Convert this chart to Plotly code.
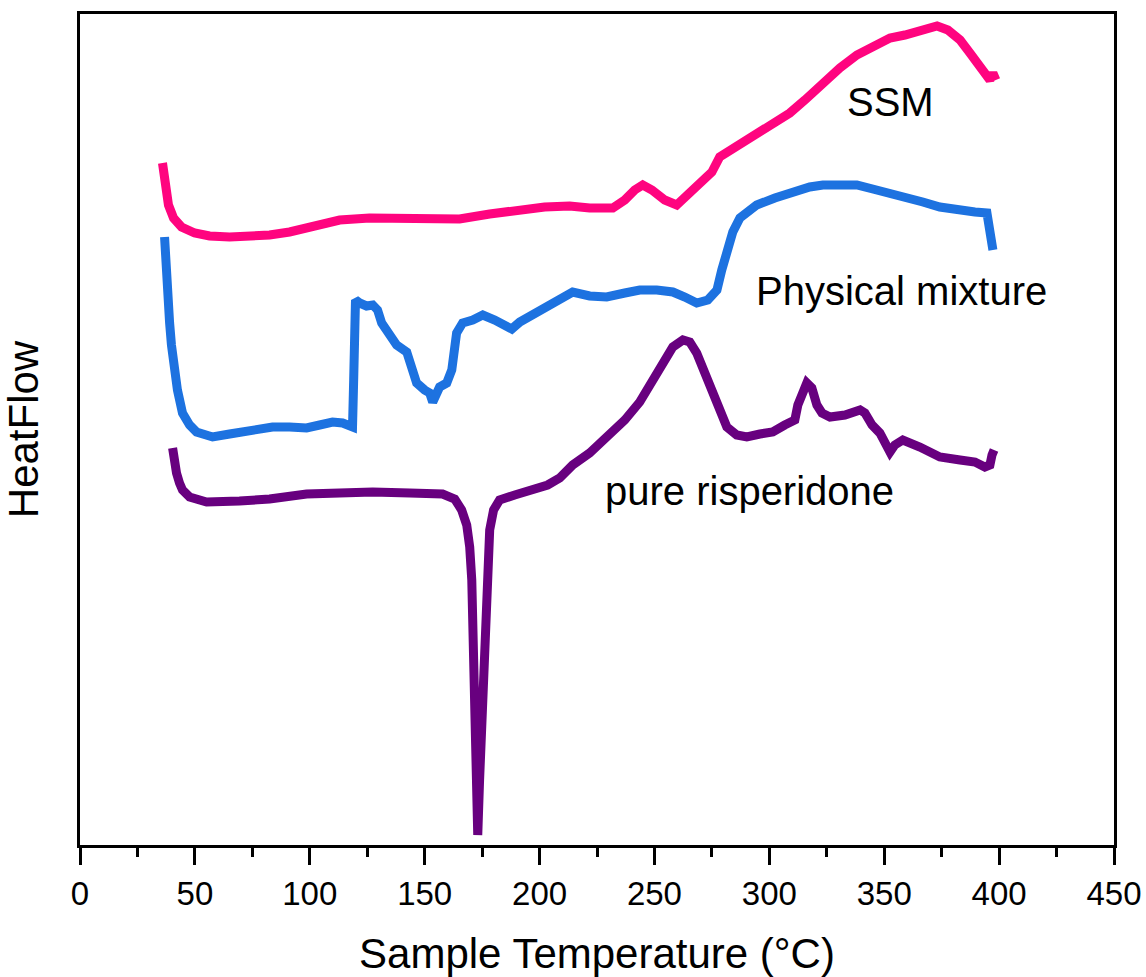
import plotly.graph_objects as go

# ---- data (Sample Temperature in °C, HeatFlow in arbitrary units) ----
ssm_t = [35.9, 36.4, 37.2, 38.5, 40.7, 44.2, 49.9, 56.4, 65.1, 73.8, 82.5, 91.2, 99.9, 113.0,
         126.0, 139.1, 152.2, 165.2, 178.3, 191.4, 202.2, 213.1, 221.8, 231.9, 237.1, 241.4,
         244.9, 248.9, 254.5, 259.7, 265.4, 271.1, 275.0, 278.4, 287.2, 294.5, 302.4, 308.9,
         315.5, 323.3, 330.7, 338.1, 345.9, 352.5, 359.0, 366.8, 373.0, 377.7, 383.0, 387.3,
         390.8, 393.8, 396.0, 397.3, 398.6]
ssm_hf = [682, 670, 655, 640, 627, 618, 612, 609, 608, 608, 610, 613, 617, 625,
          627, 626, 625, 626, 631, 635, 638, 639, 637, 637, 645, 655,
          660, 655, 645, 640, 652, 663, 673, 688, 700, 710, 721, 732,
          745, 762, 777, 790, 800, 807, 810, 814, 819, 815, 805, 792,
          780, 770, 765, 772, 765]

pm_t = [36.8, 37.2, 37.7, 38.5, 39.0, 39.8, 40.3, 41.1, 42.4, 44.6, 47.7, 50.7, 57.7, 65.1,
        69.4, 76.9, 83.8, 91.2, 98.6, 104.3, 109.9, 114.3, 118.6, 119.1, 119.5, 119.9, 121.7,
        124.7, 127.4, 129.5, 131.3, 134.8, 137.8, 142.2, 144.3, 146.5, 150.0, 152.2, 153.5,
        155.2, 156.5, 159.6, 161.8, 163.9, 166.5, 170.9, 175.3, 180.5, 184.8, 187.9, 191.4,
        200.1, 206.6, 214.4, 221.8, 229.2, 237.1, 243.6, 251.0, 258.0, 263.2, 268.4, 273.2,
        277.2, 279.3, 281.5, 284.1, 287.2, 294.5, 302.4, 308.9, 317.6, 323.3, 330.7, 338.1,
        345.0, 352.5, 359.0, 366.8, 374.2, 381.6, 389.5, 394.7, 396.0, 396.5, 397.3]
pm_hf = [608, 585, 555, 535, 522, 500, 488, 470, 455, 432, 420, 413, 408, 411,
         413, 417, 418, 418, 417, 420, 423, 422, 418, 465, 515, 545, 542,
         539, 540, 535, 522, 512, 500, 493, 480, 462, 455, 452, 443,
         455, 458, 462, 475, 512, 522, 525, 530, 525, 520, 516, 523,
         535, 543, 553, 549, 548, 552, 555, 555, 553, 548, 542, 545,
         555, 575, 595, 613, 627, 640, 647, 652, 658, 660, 661, 660,
         656, 652, 647, 643, 638, 635, 633, 632, 615, 605, 595]

pr_t = [40.3, 41.1, 42.0, 43.3, 44.6, 47.7, 55.1, 69.4, 82.5, 98.6, 113.0, 127.4, 143.5,
        157.8, 163.1, 166.1, 168.3, 169.6, 170.5, 170.9, 171.8, 172.6, 173.1, 173.9, 175.3,
        176.6, 177.4, 178.3, 180.0, 182.6, 189.2, 197.0, 203.5, 208.8, 214.4, 221.8, 229.2,
        237.1, 243.6, 248.8, 253.6, 258.0, 262.4, 265.4, 268.4, 271.9, 275.4, 278.4, 281.5,
        285.8, 290.2, 295.9, 301.5, 306.7, 311.1, 312.4, 314.6, 316.3, 318.5, 320.7, 322.9,
        326.4, 332.9, 339.5, 341.6, 344.7, 348.1, 351.2, 352.5, 354.6, 358.1, 365.5, 374.2,
        383.0, 389.5, 393.8, 396.0, 396.9, 397.8]
pr_hf = [397, 383, 372, 362, 355, 348, 343, 344, 346, 351, 353, 353, 352,
         351, 346, 335, 320, 298, 265, 232, 145, 55, 10, 65, 145,
         232, 285, 315, 335, 345, 350, 355, 360, 367, 380, 392, 408,
         425, 443, 462, 483, 498, 505, 503, 492, 473, 452, 432, 418,
         410, 408, 411, 413, 420, 425, 440, 455, 462, 457, 440, 432,
         428, 430, 435, 432, 420, 412, 400, 393, 400, 405, 398, 388,
         385, 383, 378, 380, 390, 395]

labels = ["SSM", "Physical mixture", "pure risperidone"]
label_t = [352.9, 357.7, 291.5]
label_hf = [743, 554, 354]

x_ticks = [0, 50, 100, 150, 200, 250, 300, 350, 400, 450]

colors = ["#FF047F", "#1D72E0", "#68007F"]
FONT = "Liberation Sans, Arial, sans-serif"

fig = go.Figure()
for t, hf, c, name in [(ssm_t, ssm_hf, colors[0], labels[0]),
                       (pm_t, pm_hf, colors[1], labels[1]),
                       (pr_t, pr_hf, colors[2], labels[2])]:
    fig.add_trace(go.Scatter(x=t, y=hf, mode="lines", name=name,
                             line=dict(color=c, width=9), showlegend=False))

for txt, tx, ty in zip(labels, label_t, label_hf):
    fig.add_annotation(x=tx, y=ty, text=txt, showarrow=False,
                       font=dict(family=FONT, size=40, color="black"),
                       xanchor="center", yanchor="middle")

fig.update_layout(
    width=1146, height=977,
    margin=dict(l=80, r=32, t=14, b=132),
    paper_bgcolor="white", plot_bgcolor="white",
    font=dict(family=FONT, color="black"),
)
fig.update_xaxes(
    range=[0, 450], tickvals=x_ticks, ticktext=[str(v) for v in x_ticks],
    automargin=False,
    showline=True, linecolor="black", linewidth=3, mirror=True,
    ticks="outside", ticklen=17, tickwidth=3, tickcolor="black",
    minor=dict(dtick=25, ticks="outside", ticklen=9, tickwidth=3, tickcolor="black"),
    showgrid=False, zeroline=False,
    tickfont=dict(family=FONT, size=33, color="black"),
    title=dict(text="Sample Temperature (°C)", font=dict(family=FONT, size=42, color="black"),
               standoff=30),
)
fig.update_yaxes(
    range=[0, 831], automargin=False,
    showline=True, linecolor="black", linewidth=3, mirror=True,
    ticks="", showticklabels=False, showgrid=False, zeroline=False,
    title=dict(text="HeatFlow", font=dict(family=FONT, size=42, color="black"), standoff=30),
)

fig.write_html("out.html")
